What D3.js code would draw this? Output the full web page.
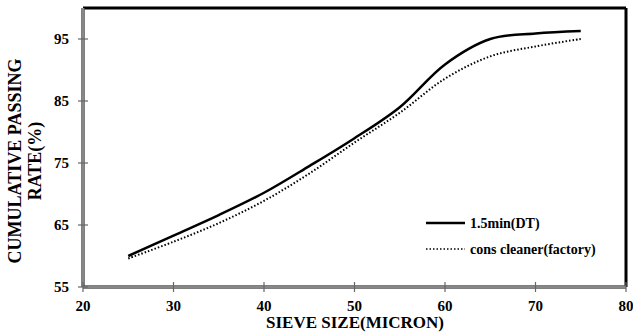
<!DOCTYPE html>
<html>
<head>
<meta charset="utf-8">
<script src="https://cdn.jsdelivr.net/npm/d3@7"></script>
<style>
  body { margin: 0; background: #fff; }
  svg text { font-family: "Liberation Serif", "DejaVu Serif", serif; font-weight: 700; }
</style>
</head>
<body>
<div id="chart"></div>
<script>
// sieve sizes (micron) and cumulative passing rate (%)
const sizes = [25, 30, 35, 40, 45, 50, 55, 60, 65, 70, 75];
const dtValues = [60.0, 63.3, 66.6, 70.2, 74.5, 79.0, 84.0, 90.9, 95.0, 95.9, 96.3];
const factoryValues = [59.6, 62.3, 65.3, 68.9, 73.3, 78.3, 83.1, 88.6, 92.2, 93.8, 95.0];
const seriesNames = ["1.5min(DT)", "cons cleaner(factory)"];
const xTicks = [20, 30, 40, 50, 60, 70, 80];
const yTicks = [55, 65, 75, 85, 95];

const W = 633, H = 332;
const margin = {top: 8, right: 7, bottom: 45, left: 83};
const width = W - margin.left - margin.right;
const height = H - margin.top - margin.bottom;

const svg = d3.select("#chart").append("svg")
    .attr("width", W)
    .attr("height", H);

const g = svg.append("g")
    .attr("transform", `translate(${margin.left},${margin.top})`);

const x = d3.scaleLinear().domain([20, 80]).range([0, width]);
const y = d3.scaleLinear().domain([55, 100]).range([height, 0]);

// top and right frame (black)
g.append("line").attr("x1", 0).attr("x2", width).attr("y1", 0).attr("y2", 0)
    .attr("stroke", "#000").attr("stroke-width", 3);
g.append("line").attr("x1", width).attr("x2", width).attr("y1", 0).attr("y2", height)
    .attr("stroke", "#000").attr("stroke-width", 3);

// axes: gray double-ish lines
function drawAxisLine(x1, y1, x2, y2) {
    g.append("line").attr("x1", x1).attr("y1", y1).attr("x2", x2).attr("y2", y2)
        .attr("stroke", "#555").attr("stroke-width", 3.5);
    g.append("line").attr("x1", x1).attr("y1", y1).attr("x2", x2).attr("y2", y2)
        .attr("stroke", "#bbb").attr("stroke-width", 1);
}
drawAxisLine(0, 0, 0, height);
drawAxisLine(0, height, width, height);

// x ticks + labels
g.selectAll(".xTick").data(xTicks).enter().append("line")
    .attr("class", "xTick")
    .attr("x1", d => x(d)).attr("x2", d => x(d))
    .attr("y1", height - 5).attr("y2", height + 5)
    .attr("stroke", "#666").attr("stroke-width", 1.2);
g.selectAll(".xLabel").data(xTicks).enter().append("text")
    .attr("class", "xLabel")
    .attr("x", d => x(d))
    .attr("y", height + 24)
    .attr("text-anchor", "middle")
    .style("font-size", "15px")
    .text(d => d);

// y ticks + labels
g.selectAll(".yTick").data(yTicks).enter().append("line")
    .attr("class", "yTick")
    .attr("x1", -5).attr("x2", 5)
    .attr("y1", d => y(d)).attr("y2", d => y(d))
    .attr("stroke", "#666").attr("stroke-width", 1.2);
g.selectAll(".yLabel").data(yTicks).enter().append("text")
    .attr("class", "yLabel")
    .attr("x", -14)
    .attr("y", d => y(d) + 5)
    .attr("text-anchor", "end")
    .style("font-size", "15px")
    .text(d => d);

// curves
const dtData = sizes.map((s, i) => ({x: s, y: dtValues[i]}));
const factoryData = sizes.map((s, i) => ({x: s, y: factoryValues[i]}));

const line = d3.line()
    .x(d => x(d.x))
    .y(d => y(d.y))
    .curve(d3.curveCatmullRom.alpha(0.5));

g.append("path").datum(factoryData)
    .attr("d", line)
    .attr("fill", "none")
    .attr("stroke", "#000")
    .attr("stroke-width", 2)
    .attr("stroke-dasharray", "1.5,2");

g.append("path").datum(dtData)
    .attr("d", line)
    .attr("fill", "none")
    .attr("stroke", "#000")
    .attr("stroke-width", 2.5);

// legend
const legend = svg.append("g").attr("transform", "translate(426,223)");
legend.append("line").attr("x1", 0).attr("x2", 39).attr("y1", 0).attr("y2", 0)
    .attr("stroke", "#000").attr("stroke-width", 2.5);
legend.append("text").attr("x", 44).attr("y", 5)
    .style("font-size", "14px").text(seriesNames[0]);
legend.append("line").attr("x1", 0).attr("x2", 39).attr("y1", 26).attr("y2", 26)
    .attr("stroke", "#000").attr("stroke-width", 1.5)
    .attr("stroke-dasharray", "1.5,2");
legend.append("text").attr("x", 44).attr("y", 31)
    .style("font-size", "14px").text(seriesNames[1]);

// axis titles
svg.append("text")
    .attr("x", 355)
    .attr("y", 328)
    .attr("text-anchor", "middle")
    .style("font-size", "17px")
    .text("SIEVE SIZE(MICRON)");

const yTitle = svg.append("text")
    .attr("transform", "translate(21,161) rotate(-90)")
    .attr("text-anchor", "middle")
    .style("font-size", "18px");
yTitle.append("tspan").attr("x", 0).attr("dy", 0).text("CUMULATIVE PASSING");
yTitle.append("tspan").attr("x", 0).attr("dy", 20).text("RATE(%)");
</script>
</body>
</html>
